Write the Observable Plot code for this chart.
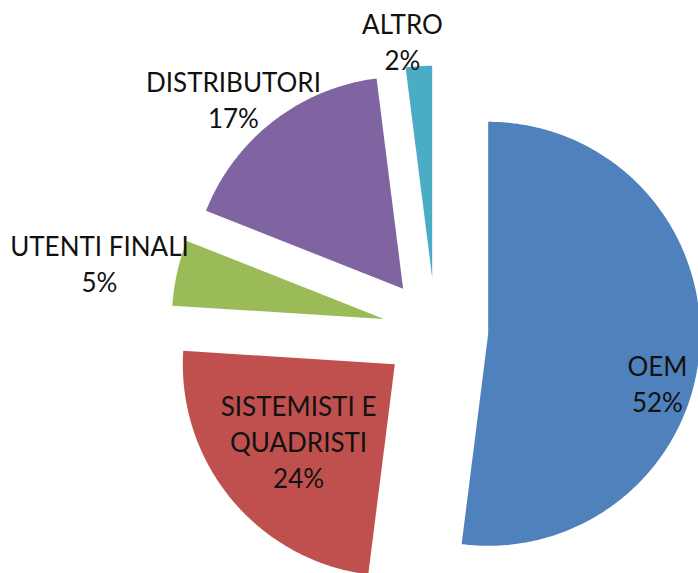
<!DOCTYPE html>
<html><head><meta charset="utf-8">
<script src="https://cdn.jsdelivr.net/npm/d3@7"></script>
<script src="https://cdn.jsdelivr.net/npm/@observablehq/plot@0.6"></script>
<style>html,body{margin:0;padding:0;background:#fff}</style>
</head><body><div id="chart"></div>
<script>
// ---- data ----
const categories = ["OEM", "SISTEMISTI E QUADRISTI", "UTENTI FINALI", "DISTRIBUTORI", "ALTRO"];
const labelNames = ["OEM", "SISTEMISTI E\nQUADRISTI", "UTENTI FINALI", "DISTRIBUTORI", "ALTRO"];
const shares = [52, 24, 5, 17, 2];
const colors = ["#4F81BD", "#C0504D", "#9BBB59", "#8064A2", "#4BACC6"];

// ---- layout (pie drawn in units of the radius) ----
const W = 698, H = 573;
const cx = 435, cy = 330, R = 212;
const explode = 52.8 / R;
// label anchor positions, in radius units relative to pie centre
const labelAt = {
  "OEM": [1.047, -0.243],
  "SISTEMISTI E QUADRISTI": [-0.646, -0.521],
  "UTENTI FINALI": [-1.585, 0.323],
  "DISTRIBUTORI": [-0.953, 1.094],
  "ALTRO": [-0.156, 1.368]
};

const total = d3.sum(shares);
const points = [];
const labels = [];
let acc = 0;
categories.forEach((name, i) => {
  const a0 = acc / total * 2 * Math.PI;
  acc += shares[i];
  const a1 = acc / total * 2 * Math.PI;
  const mid = (a0 + a1) / 2;
  const ox = Math.sin(mid) * explode, oy = Math.cos(mid) * explode;
  points.push({name, x: ox, y: oy});
  const n = Math.max(4, Math.ceil((a1 - a0) / (Math.PI / 360)));
  for (let k = 0; k <= n; k++) {
    const a = a0 + (a1 - a0) * k / n;
    points.push({name, x: ox + Math.sin(a), y: oy + Math.cos(a)});
  }
  points.push({name, x: ox, y: oy});
  labels.push({name, text: labelNames[i] + "\n" + shares[i] + "%", x: labelAt[name][0], y: labelAt[name][1]});
});

const chart = Plot.plot({
  width: W,
  height: H,
  margin: 0,
  x: {domain: [-cx / R, (W - cx) / R], axis: null},
  y: {domain: [-(H - cy) / R, cy / R], axis: null},
  color: {domain: categories, range: colors},
  style: {fontFamily: "Lato, sans-serif", background: "#fff"},
  marks: [
    Plot.line(points, {x: "x", y: "y", z: "name", fill: "name", stroke: "none"}),
    Plot.text(labels, {x: "x", y: "y", text: "text", fontSize: 26, lineHeight: 1.385, fill: "#111", textAnchor: "middle"})
  ]
});
document.getElementById("chart").appendChild(chart);
</script>
</body></html>
